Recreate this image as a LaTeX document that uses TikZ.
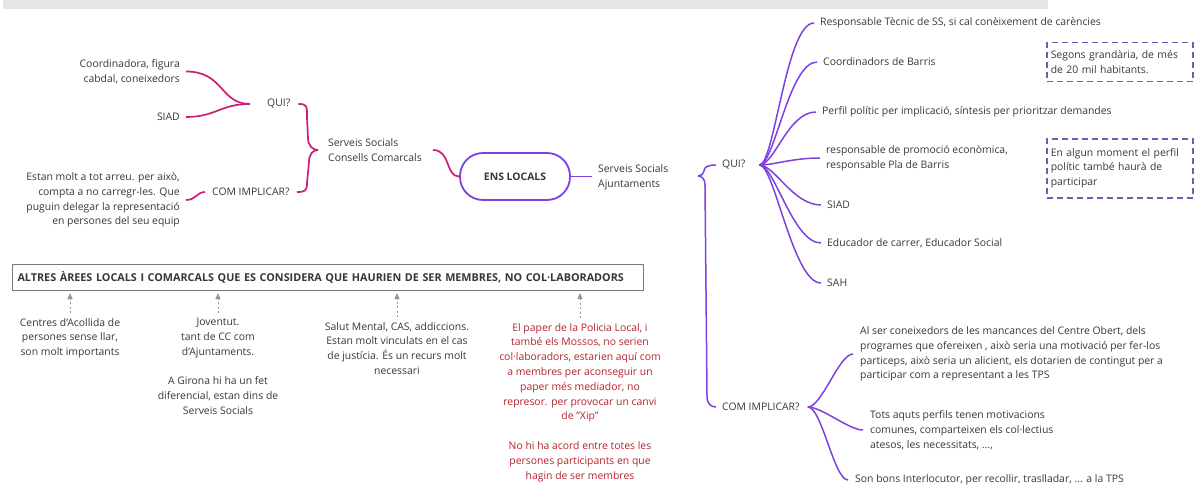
\documentclass[tikz,border=0pt]{standalone}
\usepackage{fontspec}
\setmainfont{Open Sans}
\usetikzlibrary{calc,arrows.meta}
\definecolor{txt}{RGB}{55,55,55}
\definecolor{pinkc}{RGB}{205,30,120}
\definecolor{purp}{RGB}{125,65,225}
\definecolor{dashc}{RGB}{125,85,185}
\definecolor{redt}{RGB}{180,35,45}
\definecolor{barc}{RGB}{229,229,229}
\definecolor{boxc}{RGB}{120,120,120}
\definecolor{arrc}{RGB}{150,150,150}
\begin{document}
\begin{tikzpicture}[x=1pt,y=-1pt,
  every node/.style={inner sep=2pt, text=txt, font=\fontsize{10.4}{14.8}\selectfont},
  pinkline/.style={draw=pinkc, line width=1.7pt},
  purpline/.style={draw=purp, line width=1.5pt},
  ensbox/.style={draw=purp, line width=1.8pt, rounded corners=23pt, minimum width=110pt, minimum height=47pt, font=\fontsize{10.4}{14.8}\selectfont\bfseries},
  dbox/.style={draw=dashc, line width=1.5pt, dash pattern=on 6pt off 4pt, anchor=north west, minimum width=146pt, text width=138pt, align=left, inner xsep=4pt},
  abox/.style={draw=boxc, line width=1pt, anchor=north west, minimum width=631pt, minimum height=26pt, text width=621pt, align=left, inner xsep=5pt, font=\fontsize{10.8}{14.8}\selectfont\bfseries},
  btext/.style={anchor=north, align=center},
  upar/.style={draw=arrc, line width=0.8pt, dash pattern=on 2pt off 2.5pt, -{Triangle[length=6pt,width=5pt]}},
  lft/.style={anchor=west, align=left},
  rgt/.style={anchor=east, align=right}
]
\useasboundingbox (0,0) rectangle (1195,487);
\fill[barc] (3,0) rectangle (1048,9);

% ---------- left (pink) part ----------
\node[rgt] (cf) at (182,71.5) {Coordinadora, figura\\cabdal, coneixedors};
\node[rgt] (siadL) at (182,117) {SIAD};
\node[lft] (quiL) at (265,104) {QUI?};
\node[lft] (comL) at (210,192) {COM IMPLICAR?};
\node[rgt] (estan) at (182,200) {Estan molt a tot arreu. per això,\\compta a no carregr-les. Que\\puguin delegar la representació\\en persones del seu equip};
\node[lft] (ssc) at (326,150) {Serveis Socials\\Consells Comarcals};
\coordinate (tipL) at (318,150);

\draw[pinkline] ([xshift=4pt]cf.east) .. controls +(38,0) and +(-30,0) .. ([xshift=-15pt]quiL.west);
\draw[pinkline] ([xshift=4pt]siadL.east) .. controls +(30,0) and +(-30,0) .. ([xshift=-15pt]quiL.west);
\draw[pinkline] ([xshift=4pt]estan.east) .. controls +(10,0) and +(-8,0) .. ([xshift=-5pt]comL.west);
\draw[pinkline] ([xshift=6pt]quiL.east) .. controls +(9,0) and +(0,-12) .. (307,118) -- (308,138) .. controls +(0,8) and +(-5,0) .. (tipL);
\draw[pinkline] (tipL) .. controls +(-5,0) and +(0,-8) .. (309,162) -- (307,183) .. controls +(0,8) and +(8,0) .. ([xshift=5pt]comL.east);

% ---------- centre ----------
\node[ensbox] (ens) at (515,176.5) {ENS LOCALS};
\node[lft] (ssa) at (596,177) {Serveis Socials\\Ajuntaments};
\draw[pinkline] ([xshift=9pt]ssc.east) .. controls +(18,0) and +(-14,0) .. (ens.west);
\draw[purpline] (ens.east) -- ($(ens.east -| ssa.west)+(-4,0)$);

% ---------- right (purple) part ----------
\coordinate (tipR) at (698,176);
\node[lft] (quiR) at (720,165) {QUI?};
\node[lft] (comR) at (720,407) {COM IMPLICAR?};
\draw[purpline] ([xshift=-4pt]quiR.west) .. controls +(-8,0) and +(0,-4) .. (704,171) .. controls +(0,3) and +(3,0) .. (tipR);
\draw[purpline] (tipR) .. controls +(4,0) and +(0,-6) .. (705,185) -- (707,396) .. controls +(0,8) and +(-5,0) .. ([xshift=-4pt]comR.west);

\node[lft] (r1) at (818,23) {Responsable Tècnic de SS, si cal conèixement de carències};
\node[lft] (r2) at (821,62) {Coordinadors de Barris};
\node[lft] (r3) at (820,112) {Perfil polític per implicació, síntesis per prioritzar demandes};
\node[lft] (r4) at (824,158) {responsable de promoció econòmica,\\responsable Pla de Barris};
\node[lft] (r5) at (825,205) {SIAD};
\node[lft] (r6) at (825,243) {Educador de carrer, Educador Social};
\node[lft] (r7) at (825,283) {SAH};
\foreach \n in {r1,r2,r3,r4,r5,r6,r7}
  \draw[purpline] ([xshift=12pt]quiR.east) .. controls +(15,0) and +(-28,0) .. ([xshift=-4pt]\n.west);

\node[dbox, minimum height=39pt] (n1) at (1046,42) {Segons grandària, de més\\de 20 mil habitants.};
\node[dbox, minimum height=59pt] (n2) at (1046,138) {En algun moment el perfil\\polític també haurà de\\participar};

\node[lft] (a1) at (858,354) {Al ser coneixedors de les mancances del Centre Obert, dels\\programes que ofereixen , això seria una motivació per fer-los\\particeps, això seria un alicient, els dotarien de contingut per a\\participar com a representant a les TPS};
\node[lft] (a2) at (868,430) {Tots aquts perfils tenen motivacions\\comunes, comparteixen els col·lectius\\atesos, les necessitats, ...,};
\node[lft] (a3) at (853,480) {Son bons Interlocutor, per recollir, traslladar, ... a la TPS};
\foreach \n in {a1,a2,a3}
  \draw[purpline] ([xshift=6pt]comR.east) .. controls +(14,0) and +(-14,0) .. ([xshift=-5pt]\n.west);

% ---------- bottom-left ----------
\node[abox] (ab) at (12,264) {ALTRES ÀREES LOCALS I COMARCALS QUE ES CONSIDERA QUE HAURIEN DE SER MEMBRES, NO COL·LABORADORS};

\node[btext] (b1) at (70,316) {Centres d'Acollida de\\persones sense llar,\\son molt importants};
\node[btext] (b2) at (218,316) {Joventut.\\tant de CC com\\d'Ajuntaments.\\[14.8pt]A Girona hi ha un fet\\diferencial, estan dins de\\Serveis Socials};
\node[btext] (b3) at (397,320) {Salut Mental, CAS, addiccions.\\Estan molt vinculats en el cas\\de justícia. És un recurs molt\\necessari};
\node[btext, text=redt] (b4) at (580,321) {El paper de la Policia Local, i\\també els Mossos, no serien\\col·laboradors, estarien aquí com\\a membres per aconseguir un\\paper més mediador, no\\represor. per provocar un canvi\\de "Xip"\\[14.8pt]No hi ha acord entre totes les\\persones participants en que\\hagin de ser membres};

\foreach \n in {b1,b2,b3,b4}
  \draw[upar] ([yshift=3pt]\n.north) -- ([yshift=-2pt]\n.north |- ab.south);
\end{tikzpicture}
\end{document}
